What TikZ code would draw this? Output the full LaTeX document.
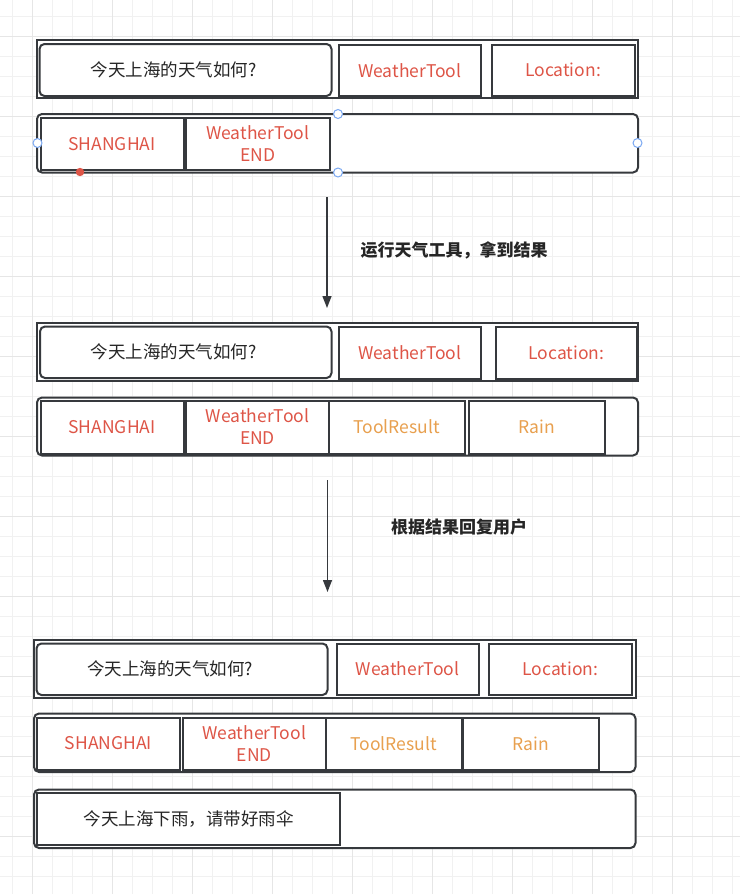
\documentclass[tikz,border=0pt]{standalone}
\usepackage{fontspec}
\setmainfont{Noto Sans CJK SC}
\usetikzlibrary{arrows.meta}
\definecolor{dk}{HTML}{36393D}
\definecolor{redt}{HTML}{DE5547}
\definecolor{orat}{HTML}{E8A04F}
\definecolor{gridminor}{HTML}{F1F1F1}
\definecolor{gridmajor}{HTML}{E6E6E6}
\definecolor{handle}{HTML}{7AA8F2}
\newcommand\mkbox[7]{%
  \node[#1, minimum width={(#5-#3)*1pt}, minimum height={(#6-#4)*1pt}]
    (#2) at ({(#3+#5)/2},{(#4+#6)/2}) {#7};}
\newcommand\qtext{今天上海的天气如何?\hspace*{24pt}}
\begin{document}
\begin{tikzpicture}[x=1pt,y=-1pt,
  base/.style={draw=dk, line width=2pt, fill=white, inner sep=0pt, align=center,
    font=\fontsize{17.5}{22}\selectfont},
  frame/.style={base},
  rframe/.style={base, rounded corners=5pt},
  qbox/.style={base, rounded corners=5pt, text=black!85},
  redbox/.style={base, text=redt},
  orbox/.style={base, text=orat},
  plainbox/.style={base, text=black!85},
  flow/.style={draw=dk, line width=1.4pt, -{Triangle[length=12pt,width=9pt]}},
  lbl/.style={font=\fontsize{17}{20}\selectfont\bfseries, text=black!85},
  hnd/.style={draw=handle, fill=white, line width=1pt},
  minor/.style={draw=gridminor, line width=0.9pt},
  major/.style={draw=gridmajor, line width=0.9pt}]
\useasboundingbox (0,0) rectangle (740,894);
\fill[white] (0,0) rectangle (740,894);
% grid
\foreach \x in {12.5,32.5,...,740} \draw[minor] (\x,0) -- (\x,894);
\foreach \y in {16.7,36.7,...,894} \draw[minor] (0,\y) -- (740,\y);
\foreach \x in {32.5,112.5,...,740} \draw[major] (\x,0) -- (\x,894);
\foreach \y in {36.7,116.7,...,894} \draw[major] (0,\y) -- (740,\y);

% ---------- group 1 ----------
\mkbox{frame}{oa1}{37}{40}{638}{97.5}{}
\mkbox{qbox}{q1}{39.5}{44}{331.5}{96}{\qtext}
\mkbox{redbox}{wt1}{338.5}{44.5}{481}{96}{WeatherTool}
\mkbox{redbox}{loc1}{491.5}{44.5}{634.5}{96}{Location:}
\mkbox{rframe}{ob1}{37}{114}{638}{172.5}{}
\mkbox{redbox}{sh1}{40.5}{117.5}{183.5}{170}{SHANGHAI}
\mkbox{redbox}{end1}{186}{117.5}{329.5}{170}{WeatherTool\\END}
% selection handles
\draw[hnd] (338,114) circle (4.5);
\draw[hnd] (338,172.5) circle (4.5);
\draw[hnd] (37.5,143) circle (4.5);
\draw[hnd] (637.5,143) circle (4.5);
\fill[redt] (80,172) circle (4.2);

% arrow 1
\coordinate (a1s) at (327,197);
\coordinate (a1e) at (327,308);
\draw[flow] (a1s) -- (a1e);
\node[lbl] (l1) at (454,250) {运行天气工具，拿到结果};

% ---------- group 2 ----------
\mkbox{frame}{oa2}{37}{322.5}{638}{380.5}{}
\mkbox{qbox}{q2}{40}{326.5}{331.5}{378}{\qtext}
\mkbox{redbox}{wt2}{338.5}{327}{481}{379}{WeatherTool}
\mkbox{redbox}{loc2}{495.5}{327}{637}{379}{Location:}
\mkbox{rframe}{ob2}{37}{397.5}{638}{455.5}{}
\mkbox{redbox}{sh2}{40.5}{400.5}{183.5}{453.5}{SHANGHAI}
\mkbox{redbox}{end2}{186}{400.5}{329}{453.5}{WeatherTool\\END}
\mkbox{orbox}{tr2}{329}{400.5}{464.5}{453.5}{ToolResult}
\mkbox{orbox}{rain2}{469}{400.5}{605}{453.5}{Rain}

% arrow 2
\coordinate (a2s) at (327.5,480);
\coordinate (a2e) at (327.5,592);
\draw[flow] (a2s) -- (a2e);
\node[lbl] (l2) at (459,527) {根据结果回复用户};

% ---------- group 3 ----------
\mkbox{frame}{oa3}{34}{639.5}{635.5}{697.5}{}
\mkbox{qbox}{q3}{36.5}{643.5}{327.5}{695}{\qtext}
\mkbox{redbox}{wt3}{336.5}{643.5}{478.5}{694.5}{WeatherTool}
\mkbox{redbox}{loc3}{488.5}{643.5}{632}{694.5}{Location:}
\mkbox{rframe}{ob3}{34}{713.5}{635.5}{772}{}
\mkbox{redbox}{sh3}{37}{717.5}{180}{769.5}{SHANGHAI}
\mkbox{redbox}{end3}{183}{717.5}{325.5}{769.5}{WeatherTool\\END}
\mkbox{orbox}{tr3}{325.5}{717.5}{462}{769.5}{ToolResult}
\mkbox{orbox}{rain3}{463}{717.5}{599}{769.5}{Rain}
\mkbox{rframe}{oc3}{34}{789.5}{635.5}{848}{}
\mkbox{plainbox}{ans3}{37}{793}{340}{845}{今天上海下雨，请带好雨伞}
\end{tikzpicture}
\end{document}
